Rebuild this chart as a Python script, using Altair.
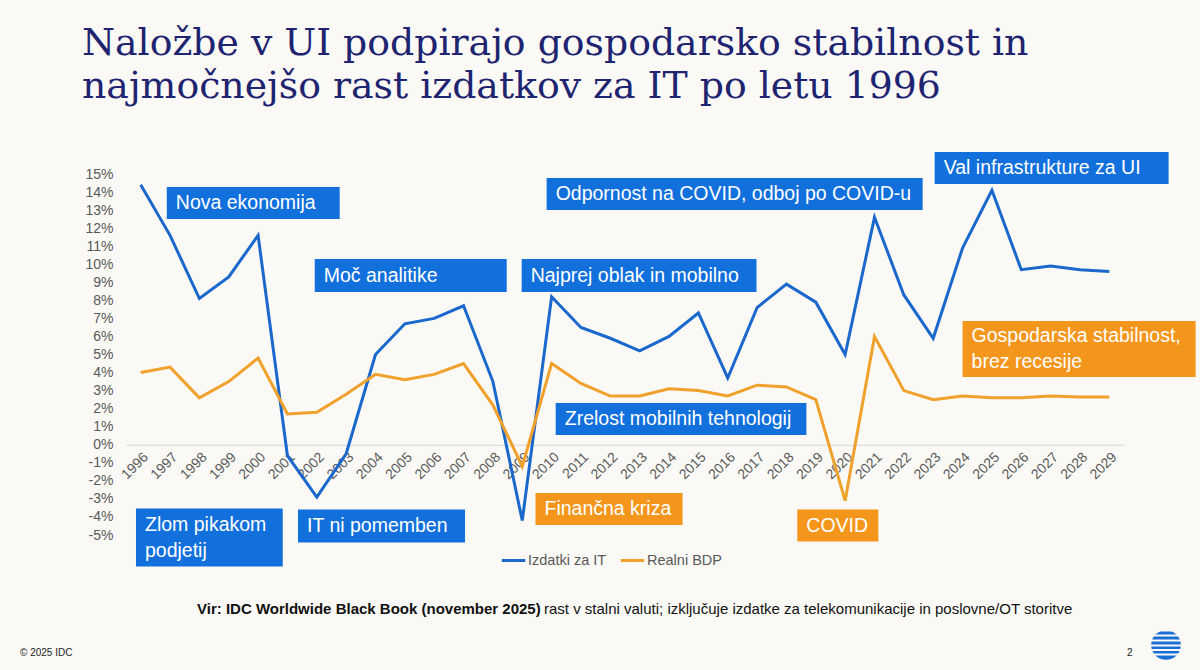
import altair as alt
import pandas as pd

# ---- data -------------------------------------------------------------
years = list(range(1996, 2030))
it_spending = [14.4, 11.6, 8.1, 9.3, 11.6, -0.6, -2.9, -0.5, 5.0, 6.7,
               7.0, 7.7, 3.5, -4.2, 8.2, 6.5, 5.9, 5.2, 6.0, 7.3,
               3.7, 7.6, 8.9, 7.9, 5.0, 12.6, 8.3, 5.9, 10.9, 14.1,
               9.7, 9.9, 9.7, 9.6]
real_gdp = [4.0, 4.3, 2.6, 3.5, 4.8, 1.7, 1.8, 2.8, 3.9, 3.6,
            3.9, 4.5, 2.2, -1.2, 4.5, 3.4, 2.7, 2.7, 3.1, 3.0,
            2.7, 3.3, 3.2, 2.5, -3.1, 6.0, 3.0, 2.5, 2.7, 2.6,
            2.6, 2.7, 2.65, 2.65]
series_names = ["Izdatki za IT", "Realni BDP"]
series_colors = ["#1a68cc", "#f0a12c"]
y_ticks = list(range(-5, 16))

title_lines = ["Naložbe v UI podpirajo gospodarsko stabilnost in",
               "najmočnejšo rast izdatkov za IT po letu 1996"]
source_bold = "Vir: IDC Worldwide Black Book (november 2025)"
source_rest = "rast v stalni valuti; izključuje izdatke za telekomunikacije in poslovne/OT storitve"

# callout boxes: label, left/right edge (year), top/bottom edge (%), fill
callout_text = ["Nova ekonomija", "Zlom pikakom\npodjetij", "IT ni pomemben",
                "Moč analitike", "Najprej oblak in mobilno",
                "Odpornost na COVID, odboj po COVID-u", "Val infrastrukture za UI",
                "Zrelost mobilnih tehnologij", "Finančna kriza", "COVID",
                "Gospodarska stabilnost,\nbrez recesije"]
callout_x0 = [1996.89, 1995.84, 2001.36, 2001.93, 2008.98, 2009.83, 2023.05,
              2010.14, 2009.45, 2018.37, 2024.0]
callout_x1 = [2002.78, 2000.84, 2007.05, 2008.47, 2016.98, 2022.64, 2031.02,
              2018.68, 2014.46, 2021.13, 2031.94]
callout_top = [14.28, -3.53, -3.59, 10.29, 10.29, 14.78, 16.22, 2.31, -2.67, -3.59, 6.86]
callout_bot = [12.51, -6.75, -5.42, 8.46, 8.46, 13.01, 14.44, 0.54, -4.45, -5.36, 3.76]
callout_fill = ["#1170dc", "#1170dc", "#1170dc", "#1170dc", "#1170dc", "#1170dc",
                "#1170dc", "#1170dc", "#f5961c", "#f5961c", "#f5961c"]

# ---- layout constants ---------------------------------------------------
PLOT_W, PLOT_H = 998, 361
Y_MIN, Y_MAX = -5, 15
PX_PER_UNIT = PLOT_H / (Y_MAX - Y_MIN)
LINE_H = 26  # line height of callout text, px

# ---- tables -----------------------------------------------------------
lines_df = pd.DataFrame({
    "leto": years * 2,
    "rast": it_spending + real_gdp,
    "serija": [series_names[0]] * len(years) + [series_names[1]] * len(years),
})
callouts = pd.DataFrame({
    "label": callout_text, "x0": callout_x0, "x1": callout_x1,
    "top": callout_top, "bot": callout_bot, "fill": callout_fill,
})
n_lines = callouts["label"].str.count("\n")
# anchor of the first text line so that the block is centred in its box
callouts["mid"] = (callouts["top"] + callouts["bot"]) / 2 + n_lines * LINE_H / 2 / PX_PER_UNIT

SANS = "Liberation Sans"
GREY = "#595959"
BG = "#faf9f6"

x_scale = alt.Scale(domain=[1995.5, 2029.5], nice=False, zero=False)
y_scale = alt.Scale(domain=[Y_MIN, Y_MAX], nice=False, zero=False)

# the same axis objects are used by every layer so they merge cleanly
x_axis = alt.Axis(values=years, format="d", title=None, orient="bottom",
                  offset=-90.25, grid=False, ticks=False,
                  domainColor="#d6d6d6", domainWidth=1,
                  labelAngle=-45, labelAlign="right", labelBaseline="top",
                  labelPadding=5, labelFont=SANS, labelFontSize=14,
                  labelColor=GREY, labelOverlap=False, labelBound=False,
                  labelFlush=False)
y_axis = alt.Axis(values=y_ticks, labelExpr="datum.value + '%'", title=None,
                  grid=False, ticks=False, domain=False, labelPadding=13,
                  labelFont=SANS, labelFontSize=14, labelColor=GREY,
                  labelOverlap=False, labelFlush=False)

lines = alt.Chart(lines_df).mark_line(strokeWidth=3).encode(
    x=alt.X("leto:Q", scale=x_scale, axis=x_axis),
    y=alt.Y("rast:Q", scale=y_scale, axis=y_axis),
    color=alt.Color("serija:N", sort=series_names,
                    scale=alt.Scale(domain=series_names, range=series_colors),
                    legend=alt.Legend(title=None, orient="none", legendX=374, legendY=373,
                                      direction="horizontal", symbolType="stroke",
                                      symbolStrokeWidth=3, symbolSize=550,
                                      labelFont=SANS, labelFontSize=14.5, labelColor=GREY,
                                      labelOffset=1, columnPadding=7)),
    order=alt.Order("serija:N"),
)

boxes = alt.Chart(callouts).mark_rect().encode(
    x=alt.X("x0:Q", scale=x_scale, axis=x_axis), x2="x1:Q",
    y=alt.Y("top:Q", scale=y_scale, axis=y_axis), y2="bot:Q",
    fill=alt.Fill("fill:N", scale=None),
)
box_text = alt.Chart(callouts).mark_text(
    align="left", baseline="middle", dx=9, font=SANS, fontSize=19.5,
    color="white", lineBreak="\n", lineHeight=LINE_H,
).encode(x=alt.X("x0:Q", scale=x_scale, axis=x_axis),
         y=alt.Y("mid:Q", scale=y_scale, axis=y_axis), text="label:N")


def label(text, x, y, size, color, weight="normal", font=SANS, align="left"):
    return alt.Chart(alt.Data(values=[{}])).mark_text(
        text=text, align=align, baseline="alphabetic", font=font, fontSize=size,
        fontWeight=weight, color=color,
    ).encode(x=alt.value(x), y=alt.value(y))


title1 = label(title_lines[0], -44, -119, 37.8, "#1e2470", font="DejaVu Serif")
title2 = label(title_lines[1], -44, -76, 37.8, "#1e2470", font="DejaVu Serif")
src1 = label(source_bold, 71, 440, 15, "#111111", weight="bold")
src2 = label(source_rest, 418, 440, 15, "#111111")
copy_txt = label("© 2025 IDC", -106, 482, 10, "#222222")
page_txt = label("2", 1001, 482, 10, "#222222")

# small striped globe in the corner
globe = alt.Chart(alt.Data(values=[{}])).mark_circle(size=880, color="#1a6fd6", opacity=1).encode(
    x=alt.value(1040), y=alt.value(471))
stripes = [
    alt.Chart(alt.Data(values=[{}])).mark_rule(color=BG, strokeWidth=2).encode(
        x=alt.value(1020), x2=alt.value(1060), y=alt.value(gy))
    for gy in [456.5, 461.5, 466.5, 471.5, 476.0, 480.5]
]

chart = alt.layer(lines, boxes, box_text, title1, title2, src1, src2,
                  copy_txt, page_txt, globe, *stripes).properties(
    width=PLOT_W, height=PLOT_H,
    autosize=alt.AutoSizeParams(type="none"),
    padding={"left": 126, "top": 174, "right": 76, "bottom": 135},
    background=BG,
).configure_view(stroke=None)

chart.save("out.html", embed_options={"renderer": "svg", "actions": False})
